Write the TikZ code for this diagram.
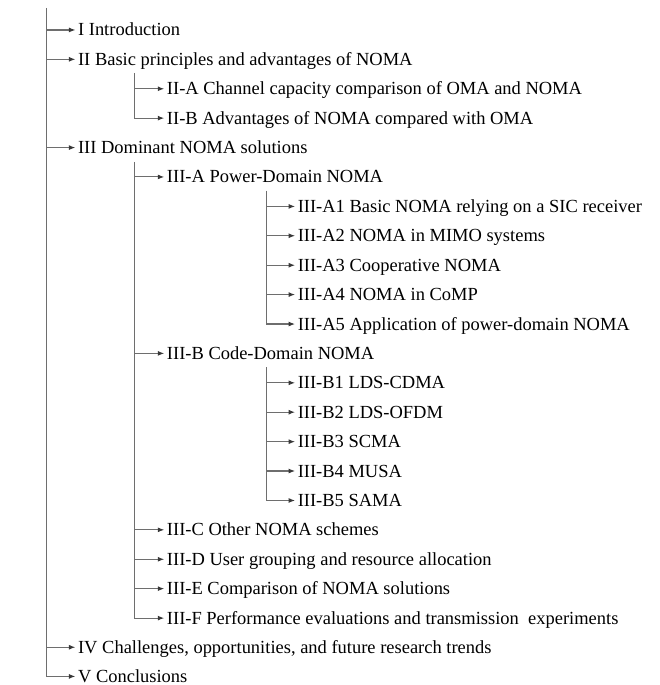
\documentclass[tikz,border=0pt]{standalone}
\usepackage{fontspec}
\setmainfont{Liberation Serif}
\usetikzlibrary{arrows.meta}
\definecolor{linegray}{HTML}{6E6E6E}
\definecolor{tipgray}{HTML}{383838}
\tikzset{
  entry/.style={anchor=west,inner sep=0pt,text height=12pt,text depth=0pt,
    font=\fontsize{18.5}{22}\selectfont},
  trunk/.style={draw=linegray,line width=1.1pt},
  branch/.style={trunk,-{Latex[length=6.5pt,width=5pt,color=tipgray]},shorten >=2.5pt},
}

\begin{document}
\begin{tikzpicture}[x=1pt,y=-1pt]
\useasboundingbox (0,0) rectangle (660,686);

% level 1
\node[entry] (intro)    at (78,30)    {I Introduction};
\node[entry] (basic)    at (78,59.4)  {II Basic principles and advantages of NOMA};
\node[entry] (dominant) at (78,147.8) {III Dominant NOMA solutions};
\node[entry] (trends)   at (78,648.2) {IV Challenges, opportunities, and future research trends};
\node[entry] (concl)    at (78,677.4) {V Conclusions};

% level 2
\node[entry] (capacity) at (167,88.9)  {II-A Channel capacity comparison of OMA and NOMA};
\node[entry] (advant)   at (167,118.3) {II-B Advantages of NOMA compared with OMA};
\node[entry] (power)    at (167,177.2) {III-A Power-Domain NOMA};
\node[entry] (code)     at (167,353.9) {III-B Code-Domain NOMA};
\node[entry] (other)    at (167,530.6) {III-C Other NOMA schemes};
\node[entry] (grouping) at (167,560.1) {III-D User grouping and resource allocation};
\node[entry] (compare)  at (167,589.5) {III-E Comparison of NOMA solutions};
\node[entry] (perform)  at (167,619)   {III-F Performance evaluations and transmission~\ experiments};

% level 3
\node[entry] (sic)    at (298,206.7) {III-A1 Basic NOMA relying on a SIC receiver};
\node[entry] (mimo)   at (298,236.1) {III-A2 NOMA in MIMO systems};
\node[entry] (coop)   at (298,265.6) {III-A3 Cooperative NOMA};
\node[entry] (comp)   at (298,295)   {III-A4 NOMA in CoMP};
\node[entry] (appl)   at (298,324.5) {III-A5 Application of power-domain NOMA};
\node[entry] (ldscd)  at (298,383.4) {III-B1 LDS-CDMA};
\node[entry] (ldsof)  at (298,412.8) {III-B2 LDS-OFDM};
\node[entry] (scma)   at (298,442.3) {III-B3 SCMA};
\node[entry] (musa)   at (298,471.7) {III-B4 MUSA};
\node[entry] (sama)   at (298,501.2) {III-B5 SAMA};

% trunks
\coordinate (top)      at (47,8);
\coordinate (basictop) at (135,73);
\coordinate (domtop)   at (135,162);
\coordinate (powtop)   at (267,191);
\coordinate (codetop)  at (267,368);

\draw[branch] (top |- intro.west) -- (intro.west);
\draw[branch] (top |- basic.west) -- (basic.west);
\draw[branch] (top |- dominant.west) -- (dominant.west);
\draw[branch] (top |- trends.west) -- (trends.west);
\draw[branch] (top) |- (concl.west);

\draw[branch] (basictop |- capacity.west) -- (capacity.west);
\draw[branch] (basictop) |- (advant.west);

\draw[branch] (domtop |- power.west) -- (power.west);
\draw[branch] (domtop |- code.west) -- (code.west);
\draw[branch] (domtop |- other.west) -- (other.west);
\draw[branch] (domtop |- grouping.west) -- (grouping.west);
\draw[branch] (domtop |- compare.west) -- (compare.west);
\draw[branch] (domtop) |- (perform.west);

\draw[branch] (powtop |- sic.west) -- (sic.west);
\draw[branch] (powtop |- mimo.west) -- (mimo.west);
\draw[branch] (powtop |- coop.west) -- (coop.west);
\draw[branch] (powtop |- comp.west) -- (comp.west);
\draw[branch] (powtop) |- (appl.west);

\draw[branch] (codetop |- ldscd.west) -- (ldscd.west);
\draw[branch] (codetop |- ldsof.west) -- (ldsof.west);
\draw[branch] (codetop |- scma.west) -- (scma.west);
\draw[branch] (codetop |- musa.west) -- (musa.west);
\draw[branch] (codetop) |- (sama.west);
\end{tikzpicture}
\end{document}
